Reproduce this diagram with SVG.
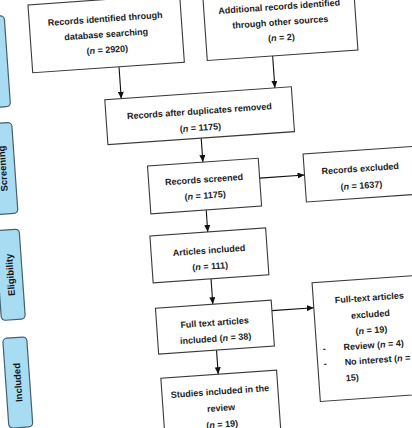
<svg xmlns="http://www.w3.org/2000/svg" width="412" height="428" viewBox="0 0 412 428">
  <defs>
    <marker id="ah" markerUnits="userSpaceOnUse" markerWidth="7" markerHeight="6" refX="7" refY="3" orient="auto">
      <path d="M0,0 L7,3 L0,6 z" fill="#111"/>
    </marker>
    <style>
      .box { fill: #fff; stroke: #3a3a3a; stroke-width: 1.1; }
      .side { fill: #a8dcf2; stroke: #45606e; stroke-width: 1.2; }
      .t { font-family: "Liberation Sans", Arial, sans-serif; font-size: 9px; font-weight: bold; fill: #222; text-anchor: middle; }
      .ts { font-family: "Liberation Sans", Arial, sans-serif; font-size: 9px; font-weight: bold; fill: #222; text-anchor: start; }
      .st { font-family: "Liberation Sans", Arial, sans-serif; font-size: 9.5px; font-weight: bold; fill: #111; text-anchor: middle; }
      .c { stroke: #111; stroke-width: 1.1; fill: none; marker-end: url(#ah); }
      .i { font-style: italic; }
    </style>
  </defs>
  <rect x="0" y="0" width="412" height="428" fill="#fff"/>
  <g transform="rotate(-4 206 214)">
    <g id="side-identification">
      <rect class="side" x="-5.5" y="2" width="24" height="91" rx="4"/>
    </g>
    <g id="side-screening">
      <rect class="side" x="-5.5" y="109" width="24" height="91" rx="4"/>
      <text class="st" transform="translate(6.5,154.5) rotate(-90)" dy="3.3">Screening</text>
    </g>
    <g id="side-eligibility">
      <rect class="side" x="-5.5" y="216" width="24" height="90" rx="4"/>
      <text class="st" transform="translate(6.5,261) rotate(-90)" dy="3.3">Eligibility</text>
    </g>
    <g id="side-included">
      <rect class="side" x="-5.5" y="324" width="24" height="90" rx="4"/>
      <text class="st" transform="translate(6.5,369) rotate(-90)" dy="3.3">Included</text>
    </g>

    <g id="connectors">
      <line class="c" x1="129.5" y1="61" x2="129.5" y2="93"/>
      <line class="c" x1="283.5" y1="61" x2="283.5" y2="93"/>
      <line class="c" x1="206.5" y1="138" x2="206.5" y2="162"/>
      <line class="c" x1="262" y1="182" x2="307" y2="182"/>
      <line class="c" x1="206.5" y1="210" x2="206.5" y2="232"/>
      <line class="c" x1="206.5" y1="279" x2="206.5" y2="304.5"/>
      <line class="c" x1="265" y1="315" x2="307" y2="315"/>
      <line class="c" x1="207" y1="350.5" x2="207" y2="374.7"/>
    </g>

    <g id="n-database">
      <rect class="box" x="43" y="-7" width="152" height="68"/>
      <text class="t" x="119" y="15.3">Records identified through</text>
      <text class="t" x="119" y="30.8">database searching</text>
      <text class="t" x="119" y="46.3">(<tspan class="i">n</tspan> = 2920)</text>
    </g>
    <g id="n-other">
      <rect class="box" x="218" y="-7" width="151" height="68"/>
      <text class="t" x="293.5" y="15.3">Additional records identified</text>
      <text class="t" x="293.5" y="30.8">through other sources</text>
      <text class="t" x="293.5" y="46.3">(<tspan class="i">n</tspan> = 2)</text>
    </g>
    <g id="n-duplicates">
      <rect class="box" x="113" y="93" width="187" height="45"/>
      <text class="t" x="206.5" y="114">Records after duplicates removed</text>
      <text class="t" x="206.5" y="130.5">(<tspan class="i">n</tspan> = 1175)</text>
    </g>
    <g id="n-screened">
      <rect class="box" x="151" y="162" width="111" height="48"/>
      <text class="t" x="206.5" y="182.5">Records screened</text>
      <text class="t" x="206.5" y="198.5">(<tspan class="i">n</tspan> = 1175)</text>
    </g>
    <g id="n-excluded">
      <rect class="box" x="307" y="161" width="112" height="48"/>
      <text class="t" x="363" y="182.5">Records excluded</text>
      <text class="t" x="363" y="199.5">(<tspan class="i">n</tspan> = 1637)</text>
    </g>
    <g id="n-articles">
      <rect class="box" x="148.5" y="232" width="116" height="47"/>
      <text class="t" x="206.5" y="253.5">Articles included</text>
      <text class="t" x="206.5" y="269.5">(<tspan class="i">n</tspan> = 111)</text>
    </g>
    <g id="n-fulltext">
      <rect class="box" x="149" y="304.5" width="116" height="46"/>
      <text class="t" x="207" y="326">Full text articles</text>
      <text class="t" x="207" y="342">included (<tspan class="i">n</tspan> = 38)</text>
    </g>
    <g id="n-ft-excluded">
      <rect class="box" x="307" y="290" width="112" height="119"/>
      <text class="t" x="363" y="312">Full-text articles</text>
      <text class="t" x="363" y="328.5">excluded</text>
      <text class="t" x="363" y="344.5">(<tspan class="i">n</tspan> = 19)</text>
      <text class="t" x="314.6" y="359.5">-</text>
      <text class="ts" x="334" y="359.5">Review (<tspan class="i">n</tspan> = 4)</text>
      <text class="t" x="314.6" y="374.5">-</text>
      <text class="ts" x="334" y="374.5">No interest (<tspan class="i">n</tspan> =</text>
      <text class="ts" x="334" y="390.5">15)</text>
    </g>
    <g id="n-studies">
      <rect class="box" x="149.5" y="374.7" width="116" height="70"/>
      <text class="t" x="207.5" y="395">Studies included in the</text>
      <text class="t" x="207.5" y="411.5">review</text>
      <text class="t" x="207.5" y="428">(<tspan class="i">n</tspan> = 19)</text>
    </g>
  </g>
</svg>
